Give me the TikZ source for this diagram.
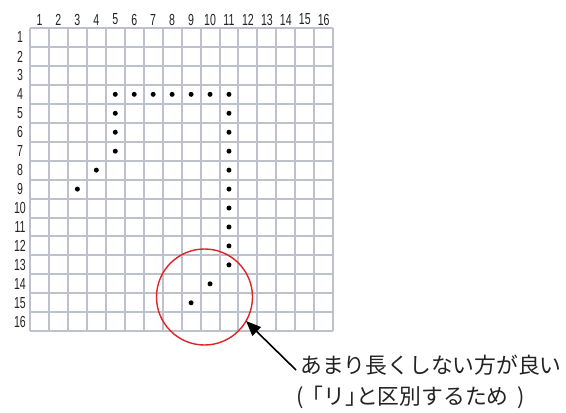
\documentclass[tikz,border=0pt]{standalone}
\usepackage{fontspec}
\usepackage{graphicx}
\newfontfamily\jpfont{Noto Sans CJK JP}
\newfontfamily\numfont{Liberation Sans}
\newcommand{\narrownum}[1]{\scalebox{0.66}[1]{\numfont\fontsize{16}{16}\selectfont #1}}
\usetikzlibrary{arrows.meta}
\definecolor{gridgray}{RGB}{188,193,203}
\definecolor{circred}{RGB}{225,35,40}
\definecolor{txtgray}{RGB}{35,35,35}
\begin{document}
\begin{tikzpicture}[x=1pt,y=-1pt,
  gridline/.style={draw=gridgray,line width=2pt},
  numlabel/.style={text=txtgray,inner sep=0pt},
  dotmark/.style={circle,fill=black,inner sep=0pt,minimum size=5pt},
  jptext/.style={font=\jpfont\fontsize{21.8}{21.8}\selectfont,text=txtgray,inner sep=0pt,anchor=west}]
\useasboundingbox (0,0) rectangle (566,413);
\fill[white] (0,0) rectangle (566,413);
% grid
\foreach \i in {0,...,16} {
  \draw[gridline] (30+\i*18.95,28) -- (30+\i*18.95,331.2);
  \draw[gridline] (30,28+\i*18.95) -- (333.2,28+\i*18.95);
}
% labels
\foreach \i in {1,...,16} {
  \node[numlabel] (c\i) at (30+\i*18.95-9.475,19.5) {\narrownum{\i}};
  \node[numlabel] (r\i) at (20,28+\i*18.95-9.475) {\narrownum{\i}};
}
% dots
\foreach \c/\r in {5/4,6/4,7/4,8/4,9/4,10/4,11/4,5/5,5/6,5/7,4/8,3/9,11/5,11/6,11/7,11/8,11/9,11/10,11/11,11/12,11/13,10/14,9/15} {
  \node[dotmark] (d\c-\r) at (30+\c*18.95-9.475,28+\r*18.95-9.475) {};
}
% circle
\node[circle,draw=circred,line width=1.4pt,minimum size=96pt,inner sep=0pt] (ring) at (204.5,297) {};
% text
\node[jptext] (t1) at (300,365) {あまり長くしない方が良い};
\node[jptext] (t2) at (296,397) {(\hspace{9pt}｢リ｣と区別するため\hspace{9pt})};
\coordinate (tip) at (246,321);
\coordinate (tail) at (296,370);
\draw[line width=1.6pt,-{Triangle[length=15pt,width=12pt]}] (tail) -- (tip);
\end{tikzpicture}
\end{document}
